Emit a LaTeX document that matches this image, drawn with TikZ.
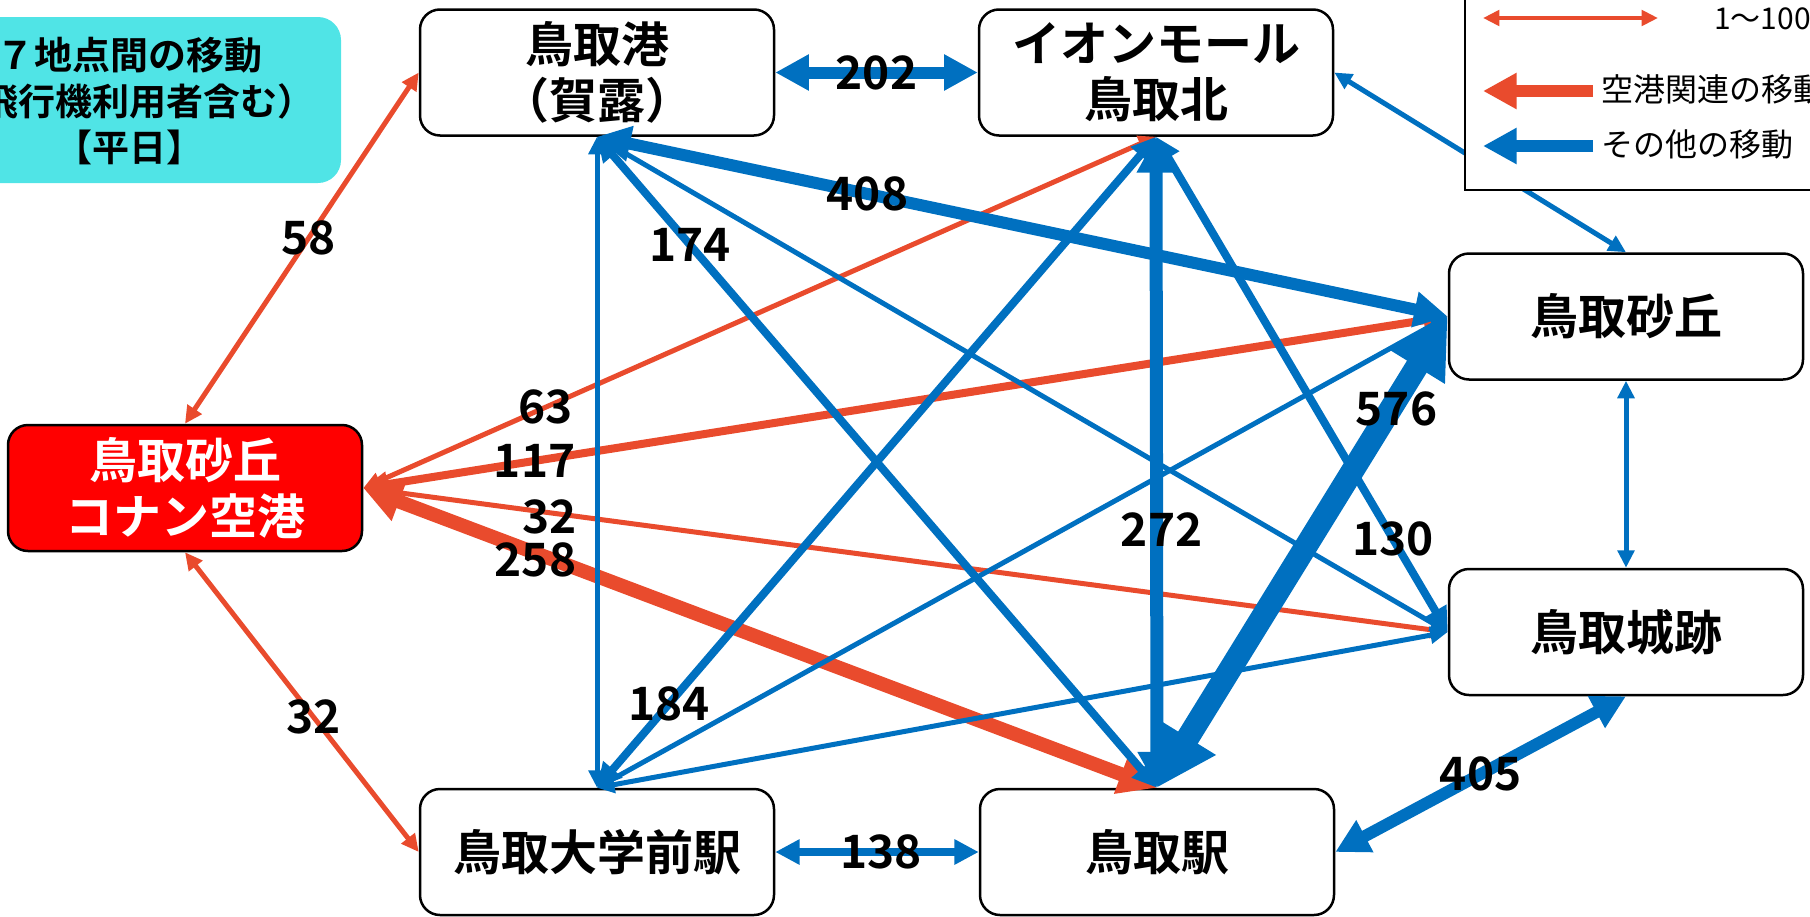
\documentclass[tikz,border=0pt]{standalone}
\usepackage{fontspec}
\setmainfont{Noto Sans CJK JP}[BoldFont={Noto Sans CJK JP Bold}]
\usetikzlibrary{arrows.meta}
\definecolor{myred}{RGB}{233,75,45}
\definecolor{myblue}{RGB}{0,112,192}
\definecolor{mycyan}{RGB}{80,228,230}
\definecolor{boxred}{RGB}{255,0,0}
\begin{document}
\begin{tikzpicture}[x=1pt,y=-1pt,
  place/.style={draw=black, line width=2.5pt, rounded corners=20pt, fill=white,
    minimum width=354pt, minimum height=126pt, inner sep=0pt, align=center,
    font=\fontsize{48pt}{56pt}\selectfont\bfseries},
  num/.style={font=\fontsize{46pt}{46pt}\selectfont\bfseries, inner sep=0pt, text=black},
  conn/.style={line width=#1, {Triangle[length=6pt 2.3,width=4pt 2.5]}-{Triangle[length=6pt 2.3,width=4pt 2.5]}},
  redc/.style={conn=#1, draw=myred},
  bluec/.style={conn=#1, draw=myblue},
  legtext/.style={anchor=west, inner sep=0pt, font=\fontsize{32pt}{32pt}\selectfont},
]
\clip (0,0) rectangle (1810,916);
% title
\node[fill=mycyan, rounded corners=23pt, minimum width=371pt, minimum height=166pt, inner sep=0pt] (titlebox) at (155.5,100) {};
\node[align=center, inner sep=0pt, font=\fontsize{37pt}{46pt}\selectfont\bfseries] (title) at (130,101)
  {{\fontsize{38pt}{46pt}\selectfont ７地点間の移動}\\（飛行機利用者含む）\\【平日】};
% places
\node[place, fill=boxred, text=white] (airport) at (185,488) {鳥取砂丘\\コナン空港};
\node[place] (port) at (597,72.5) {鳥取港\\（賀露）};
\node[place] (aeon) at (1156,72.5) {イオンモール\\鳥取北};
\node[place] (dune) at (1626,316.5) {鳥取砂丘};
\node[place] (castle) at (1626,632) {鳥取城跡};
\node[place] (station) at (1157,852) {鳥取駅};
\node[place] (univ) at (597,852) {鳥取大学前駅};
% airport related (red)
\draw[redc=5pt] (airport.north) -- coordinate[pos=0.53] (l58) (port.west);
\draw[redc=5pt] (airport.south) -- coordinate[pos=0.55] (l32a) (univ.west);
\draw[redc=5pt] (airport.east) -- coordinate[pos=0.23] (l63) (aeon.south);
\draw[redc=8pt] (airport.east) -- coordinate[pos=0.158] (l117) (dune.west);
\draw[redc=5pt] (airport.east) -- coordinate[pos=0.172] (l32b) (castle.west);
\draw[redc=14pt] (airport.east) -- coordinate[pos=0.217] (l258) (station.north);
% other (blue)
\draw[bluec=5pt] (port.south) -- (univ.north);
\draw[bluec=5pt] (port.south) -- (castle.west);
\draw[bluec=5pt] (aeon.east) -- (dune.north);
\draw[bluec=5pt] (dune.south) -- (castle.north);
\draw[bluec=5pt] (dune.west) -- (univ.north);
\draw[bluec=5pt] (castle.west) -- (univ.north);
\draw[bluec=8pt] (port.south) -- coordinate[pos=0.166] (l174) (station.north);
\draw[bluec=8pt] (aeon.south) -- coordinate[pos=0.871] (l184) (univ.north);
\draw[bluec=8pt] (aeon.south) -- coordinate[pos=0.812] (l130) (castle.west);
\draw[bluec=8pt] (univ.east) -- coordinate[pos=0.52] (l138) (station.west);
\draw[bluec=12pt] (port.east) -- coordinate[pos=0.5] (l202) (aeon.west);
\draw[bluec=12pt] (port.south) -- coordinate[pos=0.318] (l408) (dune.west);
\draw[bluec=12pt] (castle.south) -- coordinate[pos=0.5] (l405) (station.east);
\draw[bluec=13pt] (aeon.south) -- coordinate[pos=0.603] (l272) (station.north);
\draw[bluec=23pt] (dune.west) -- coordinate[pos=0.19] (l576) (station.north);
% labels
\node[num] (n58) at (l58) {58};
\node[num] (n32a) at (l32a) {32};
\node[num] (n63) at (l63) {63};
\node[num] (n117) at (l117) {117};
\node[num] (n32b) at ([yshift=-4pt]l32b) {32};
\node[num] (n258) at ([yshift=-7pt]l258) {258};
\node[num] (n174) at (l174) {174};
\node[num] (n184) at (l184) {184};
\node[num] (n130) at (l130) {130};
\node[num] (n138) at (l138) {138};
\node[num] (n202) at (l202) {202};
\node[num] (n408) at (l408) {408};
\node[num] (n405) at (l405) {405};
\node[num] (n272) at ([xshift=5pt]l272) {272};
\node[num] (n576) at ([xshift=4pt,yshift=-3pt]l576) {576};
% legend
\node[draw=black, line width=2.5pt, fill=white, minimum width=400pt, minimum height=220pt, inner sep=0pt] (legend) at (1665,80) {};
\coordinate (la1) at (1483,18); \coordinate (lb1) at (1658,18);
\draw[redc=4.5pt] (la1) -- (lb1);
\node[anchor=west, inner sep=0pt, font=\fontsize{30pt}{30pt}\selectfont] (lt1) at (1714,19) {1～100};
\coordinate (la2) at (1483,91); \coordinate (lb2) at (1593,91);
\draw[myred, line width=12pt, -{Triangle[length=6pt 2.3,width=4pt 2.5]}] (lb2) -- (la2);
\node[legtext] (lt2) at (1601,89) {空港関連の移動};
\coordinate (la3) at (1483,146); \coordinate (lb3) at (1593,146);
\draw[myblue, line width=12pt, -{Triangle[length=6pt 2.3,width=4pt 2.5]}] (lb3) -- (la3);
\node[legtext] (lt3) at (1601,144) {その他の移動};
\end{tikzpicture}
\end{document}
